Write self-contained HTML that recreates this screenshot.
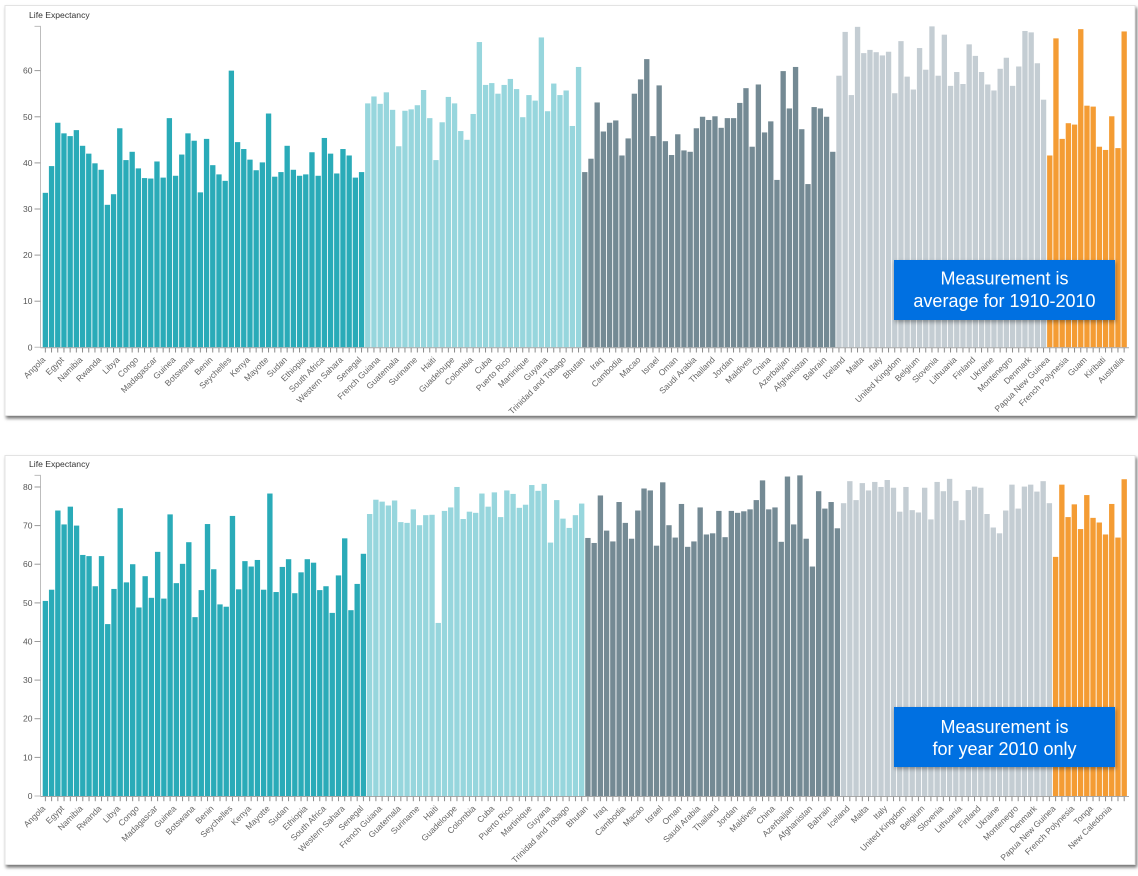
<!DOCTYPE html>
<html><head><meta charset="utf-8"><style>
html,body{margin:0;padding:0;background:#fff}
body{width:1138px;height:876px;overflow:hidden}
svg{display:block;font-family:"Liberation Sans",Arial,sans-serif}
.yl{font-size:8.5px;fill:#555;text-anchor:end}
.xl text{font-size:8.5px;fill:#666;text-anchor:end}
.tt{font-size:8.6px;fill:#333}
.ann{font-size:18px;fill:#fff;text-anchor:middle}
</style></head><body>
<svg width="1138" height="876" viewBox="0 0 1138 876">
<defs>
<filter id="sh" x="-2%" y="-3%" width="104%" height="108%"><feDropShadow dx="1.5" dy="2.5" stdDeviation="1.5" flood-color="#000" flood-opacity="0.55"/></filter>
<filter id="sh2" x="-5%" y="-10%" width="110%" height="130%"><feDropShadow dx="1" dy="2" stdDeviation="2" flood-color="#000" flood-opacity="0.35"/></filter>
<pattern id="tk1" patternUnits="userSpaceOnUse" x="44.85" y="0" width="6.2" height="10"><rect x="0" y="0" width="1" height="10" fill="#8a8a8a"/></pattern>
<pattern id="tk2" patternUnits="userSpaceOnUse" x="44.88" y="0" width="6.236" height="10"><rect x="0" y="0" width="1" height="10" fill="#8a8a8a"/></pattern>
</defs>

<!-- panels -->
<rect x="5" y="5.5" width="1130" height="410" fill="#fff" stroke="#e3e3e3" filter="url(#sh)"/>
<rect x="5" y="455.5" width="1130" height="409" fill="#fff" stroke="#e3e3e3" filter="url(#sh)"/>

<!-- ============ TOP CHART ============ -->
<text class="tt" x="29" y="18">Life Expectancy</text>
<g transform="translate(42.7,347.3) scale(6.2,-4.611)">
<g fill="#2aabb8">
<rect x="0" width=".86" height="33.5"/><rect x="1" width=".86" height="39.3"/><rect x="2" width=".86" height="48.7"/><rect x="3" width=".86" height="46.4"/><rect x="4" width=".86" height="45.8"/><rect x="5" width=".86" height="47.1"/><rect x="6" width=".86" height="43.7"/><rect x="7" width=".86" height="42"/><rect x="8" width=".86" height="39.9"/><rect x="9" width=".86" height="38.5"/><rect x="10" width=".86" height="30.9"/><rect x="11" width=".86" height="33.2"/><rect x="12" width=".86" height="47.5"/><rect x="13" width=".86" height="40.6"/><rect x="14" width=".86" height="42.4"/><rect x="15" width=".86" height="38.8"/><rect x="16" width=".86" height="36.7"/><rect x="17" width=".86" height="36.6"/><rect x="18" width=".86" height="40.3"/><rect x="19" width=".86" height="36.8"/><rect x="20" width=".86" height="49.7"/><rect x="21" width=".86" height="37.2"/><rect x="22" width=".86" height="41.8"/><rect x="23" width=".86" height="46.4"/><rect x="24" width=".86" height="44.8"/><rect x="25" width=".86" height="33.6"/><rect x="26" width=".86" height="45.2"/><rect x="27" width=".86" height="39.5"/><rect x="28" width=".86" height="37.5"/><rect x="29" width=".86" height="36.1"/><rect x="30" width=".86" height="60"/><rect x="31" width=".86" height="44.5"/><rect x="32" width=".86" height="43"/><rect x="33" width=".86" height="40.7"/><rect x="34" width=".86" height="38.4"/><rect x="35" width=".86" height="40.1"/><rect x="36" width=".86" height="50.7"/><rect x="37" width=".86" height="37"/><rect x="38" width=".86" height="38"/><rect x="39" width=".86" height="43.7"/><rect x="40" width=".86" height="38.5"/><rect x="41" width=".86" height="37.2"/><rect x="42" width=".86" height="37.5"/><rect x="43" width=".86" height="42.3"/><rect x="44" width=".86" height="37.2"/><rect x="45" width=".86" height="45.4"/><rect x="46" width=".86" height="42"/><rect x="47" width=".86" height="37.7"/><rect x="48" width=".86" height="43"/><rect x="49" width=".86" height="41.6"/><rect x="50" width=".86" height="36.8"/><rect x="51" width=".86" height="38"/>
</g>
<g fill="#97d6dd">
<rect x="52" width=".86" height="52.9"/><rect x="53" width=".86" height="54.4"/><rect x="54" width=".86" height="52.8"/><rect x="55" width=".86" height="55.3"/><rect x="56" width=".86" height="51.5"/><rect x="57" width=".86" height="43.6"/><rect x="58" width=".86" height="51.3"/><rect x="59" width=".86" height="51.6"/><rect x="60" width=".86" height="52.5"/><rect x="61" width=".86" height="55.8"/><rect x="62" width=".86" height="49.7"/><rect x="63" width=".86" height="40.6"/><rect x="64" width=".86" height="48.8"/><rect x="65" width=".86" height="54.3"/><rect x="66" width=".86" height="52.9"/><rect x="67" width=".86" height="46.9"/><rect x="68" width=".86" height="45"/><rect x="69" width=".86" height="50.6"/><rect x="70" width=".86" height="66.2"/><rect x="71" width=".86" height="56.9"/><rect x="72" width=".86" height="57.3"/><rect x="73" width=".86" height="55"/><rect x="74" width=".86" height="56.9"/><rect x="75" width=".86" height="58.2"/><rect x="76" width=".86" height="56"/><rect x="77" width=".86" height="49.9"/><rect x="78" width=".86" height="54.7"/><rect x="79" width=".86" height="53.5"/><rect x="80" width=".86" height="67.2"/><rect x="81" width=".86" height="51.2"/><rect x="82" width=".86" height="57.2"/><rect x="83" width=".86" height="54.7"/><rect x="84" width=".86" height="55.7"/><rect x="85" width=".86" height="48"/><rect x="86" width=".86" height="60.8"/>
</g>
<g fill="#748a94">
<rect x="87" width=".86" height="38"/><rect x="88" width=".86" height="40.9"/><rect x="89" width=".86" height="53.1"/><rect x="90" width=".86" height="46.8"/><rect x="91" width=".86" height="48.7"/><rect x="92" width=".86" height="49.2"/><rect x="93" width=".86" height="41.6"/><rect x="94" width=".86" height="45.3"/><rect x="95" width=".86" height="55"/><rect x="96" width=".86" height="58.1"/><rect x="97" width=".86" height="62.5"/><rect x="98" width=".86" height="45.8"/><rect x="99" width=".86" height="56.8"/><rect x="100" width=".86" height="44.7"/><rect x="101" width=".86" height="41.7"/><rect x="102" width=".86" height="46.2"/><rect x="103" width=".86" height="42.7"/><rect x="104" width=".86" height="42.4"/><rect x="105" width=".86" height="47.5"/><rect x="106" width=".86" height="50"/><rect x="107" width=".86" height="49.3"/><rect x="108" width=".86" height="50.1"/><rect x="109" width=".86" height="47.6"/><rect x="110" width=".86" height="49.7"/><rect x="111" width=".86" height="49.7"/><rect x="112" width=".86" height="53"/><rect x="113" width=".86" height="56.2"/><rect x="114" width=".86" height="43.5"/><rect x="115" width=".86" height="57"/><rect x="116" width=".86" height="46.6"/><rect x="117" width=".86" height="49"/><rect x="118" width=".86" height="36.3"/><rect x="119" width=".86" height="59.9"/><rect x="120" width=".86" height="51.8"/><rect x="121" width=".86" height="60.8"/><rect x="122" width=".86" height="47.3"/><rect x="123" width=".86" height="35.4"/><rect x="124" width=".86" height="52.1"/><rect x="125" width=".86" height="51.8"/><rect x="126" width=".86" height="50"/><rect x="127" width=".86" height="42.4"/>
</g>
<g fill="#c4cdd3">
<rect x="128" width=".86" height="58.9"/><rect x="129" width=".86" height="68.4"/><rect x="130" width=".86" height="54.7"/><rect x="131" width=".86" height="69.5"/><rect x="132" width=".86" height="63.8"/><rect x="133" width=".86" height="64.5"/><rect x="134" width=".86" height="64"/><rect x="135" width=".86" height="63.3"/><rect x="136" width=".86" height="64.1"/><rect x="137" width=".86" height="55.1"/><rect x="138" width=".86" height="66.4"/><rect x="139" width=".86" height="58.7"/><rect x="140" width=".86" height="55.9"/><rect x="141" width=".86" height="64.9"/><rect x="142" width=".86" height="60.2"/><rect x="143" width=".86" height="69.6"/><rect x="144" width=".86" height="58.9"/><rect x="145" width=".86" height="67.8"/><rect x="146" width=".86" height="56.7"/><rect x="147" width=".86" height="59.7"/><rect x="148" width=".86" height="57.1"/><rect x="149" width=".86" height="65.7"/><rect x="150" width=".86" height="63.2"/><rect x="151" width=".86" height="59.7"/><rect x="152" width=".86" height="57"/><rect x="153" width=".86" height="55.7"/><rect x="154" width=".86" height="60.4"/><rect x="155" width=".86" height="62.8"/><rect x="156" width=".86" height="56.7"/><rect x="157" width=".86" height="60.9"/><rect x="158" width=".86" height="68.6"/><rect x="159" width=".86" height="68.3"/><rect x="160" width=".86" height="61.6"/><rect x="161" width=".86" height="53.7"/>
</g>
<g fill="#f49c34">
<rect x="162" width=".86" height="41.6"/><rect x="163" width=".86" height="67"/><rect x="164" width=".86" height="45.2"/><rect x="165" width=".86" height="48.6"/><rect x="166" width=".86" height="48.3"/><rect x="167" width=".86" height="69"/><rect x="168" width=".86" height="52.4"/><rect x="169" width=".86" height="52.2"/><rect x="170" width=".86" height="43.5"/><rect x="171" width=".86" height="42.8"/><rect x="172" width=".86" height="50.1"/><rect x="173" width=".86" height="43.2"/><rect x="174" width=".86" height="68.5"/>
</g>
</g>
<!-- top axes -->
<path d="M34.5,26.4H40.5V347.3H34.5" fill="none" stroke="#bdbdbd" stroke-width="1"/>
<line x1="40.5" y1="347.8" x2="1129" y2="347.8" stroke="#a8a8a8" stroke-width="1"/>
<rect x="42.7" y="348" width="1085.3" height="4.5" fill="url(#tk1)"/>
<g stroke="#9a9a9a" stroke-width="1">
<line x1="34.5" y1="301.2" x2="40.5" y2="301.2"/><line x1="34.5" y1="255.1" x2="40.5" y2="255.1"/><line x1="34.5" y1="209" x2="40.5" y2="209"/><line x1="34.5" y1="162.9" x2="40.5" y2="162.9"/><line x1="34.5" y1="116.8" x2="40.5" y2="116.8"/><line x1="34.5" y1="70.6" x2="40.5" y2="70.6"/>
</g>
<g class="yl">
<text x="32.5" y="350.3">0</text><text x="32.5" y="304.2">10</text><text x="32.5" y="258.1">20</text><text x="32.5" y="212">30</text><text x="32.5" y="165.9">40</text><text x="32.5" y="119.8">50</text><text x="32.5" y="73.6">60</text>
</g>
<g class="xl">
<text transform="translate(45.85,360.3) rotate(-45)">Angola</text>
<text transform="translate(64.45,360.3) rotate(-45)">Egypt</text>
<text transform="translate(83.05,360.3) rotate(-45)">Namibia</text>
<text transform="translate(101.65,360.3) rotate(-45)">Rwanda</text>
<text transform="translate(120.25,360.3) rotate(-45)">Libya</text>
<text transform="translate(138.85,360.3) rotate(-45)">Congo</text>
<text transform="translate(157.45,360.3) rotate(-45)">Madagascar</text>
<text transform="translate(176.05,360.3) rotate(-45)">Guinea</text>
<text transform="translate(194.65,360.3) rotate(-45)">Botswana</text>
<text transform="translate(213.25,360.3) rotate(-45)">Benin</text>
<text transform="translate(231.85,360.3) rotate(-45)">Seychelles</text>
<text transform="translate(250.45,360.3) rotate(-45)">Kenya</text>
<text transform="translate(269.05,360.3) rotate(-45)">Mayotte</text>
<text transform="translate(287.65,360.3) rotate(-45)">Sudan</text>
<text transform="translate(306.25,360.3) rotate(-45)">Ethiopia</text>
<text transform="translate(324.85,360.3) rotate(-45)">South Africa</text>
<text transform="translate(343.45,360.3) rotate(-45)">Western Sahara</text>
<text transform="translate(362.05,360.3) rotate(-45)">Senegal</text>
<text transform="translate(380.65,360.3) rotate(-45)">French Guiana</text>
<text transform="translate(399.25,360.3) rotate(-45)">Guatemala</text>
<text transform="translate(417.85,360.3) rotate(-45)">Suriname</text>
<text transform="translate(436.45,360.3) rotate(-45)">Haiti</text>
<text transform="translate(455.05,360.3) rotate(-45)">Guadeloupe</text>
<text transform="translate(473.65,360.3) rotate(-45)">Colombia</text>
<text transform="translate(492.25,360.3) rotate(-45)">Cuba</text>
<text transform="translate(510.85,360.3) rotate(-45)">Puerto Rico</text>
<text transform="translate(529.45,360.3) rotate(-45)">Martinique</text>
<text transform="translate(548.05,360.3) rotate(-45)">Guyana</text>
<text transform="translate(566.65,360.3) rotate(-45)">Trinidad and Tobago</text>
<text transform="translate(585.25,360.3) rotate(-45)">Bhutan</text>
<text transform="translate(603.85,360.3) rotate(-45)">Iraq</text>
<text transform="translate(622.45,360.3) rotate(-45)">Cambodia</text>
<text transform="translate(641.05,360.3) rotate(-45)">Macao</text>
<text transform="translate(659.65,360.3) rotate(-45)">Israel</text>
<text transform="translate(678.25,360.3) rotate(-45)">Oman</text>
<text transform="translate(696.85,360.3) rotate(-45)">Saudi Arabia</text>
<text transform="translate(715.45,360.3) rotate(-45)">Thailand</text>
<text transform="translate(734.05,360.3) rotate(-45)">Jordan</text>
<text transform="translate(752.65,360.3) rotate(-45)">Maldives</text>
<text transform="translate(771.25,360.3) rotate(-45)">China</text>
<text transform="translate(789.85,360.3) rotate(-45)">Azerbaijan</text>
<text transform="translate(808.45,360.3) rotate(-45)">Afghanistan</text>
<text transform="translate(827.05,360.3) rotate(-45)">Bahrain</text>
<text transform="translate(845.65,360.3) rotate(-45)">Iceland</text>
<text transform="translate(864.25,360.3) rotate(-45)">Malta</text>
<text transform="translate(882.85,360.3) rotate(-45)">Italy</text>
<text transform="translate(901.45,360.3) rotate(-45)">United Kingdom</text>
<text transform="translate(920.05,360.3) rotate(-45)">Belgium</text>
<text transform="translate(938.65,360.3) rotate(-45)">Slovenia</text>
<text transform="translate(957.25,360.3) rotate(-45)">Lithuania</text>
<text transform="translate(975.85,360.3) rotate(-45)">Finland</text>
<text transform="translate(994.45,360.3) rotate(-45)">Ukraine</text>
<text transform="translate(1013.05,360.3) rotate(-45)">Montenegro</text>
<text transform="translate(1031.65,360.3) rotate(-45)">Denmark</text>
<text transform="translate(1050.25,360.3) rotate(-45)">Papua New Guinea</text>
<text transform="translate(1068.85,360.3) rotate(-45)">French Polynesia</text>
<text transform="translate(1087.45,360.3) rotate(-45)">Guam</text>
<text transform="translate(1106.05,360.3) rotate(-45)">Kiribati</text>
<text transform="translate(1124.65,360.3) rotate(-45)">Australia</text>
</g>
<rect x="894" y="260" width="221" height="60" fill="#0070e1" filter="url(#sh2)"/>
<text class="ann" x="1004.5" y="284.5">Measurement is</text>
<text class="ann" x="1004.5" y="307">average for 1910-2010</text>

<!-- ============ BOTTOM CHART ============ -->
<text class="tt" x="29" y="467">Life Expectancy</text>
<g transform="translate(42.7,796) scale(6.236,-3.863)">
<g fill="#2aabb8">
<rect x="0" width=".86" height="50.5"/><rect x="1" width=".86" height="53.4"/><rect x="2" width=".86" height="73.9"/><rect x="3" width=".86" height="70.3"/><rect x="4" width=".86" height="74.9"/><rect x="5" width=".86" height="70"/><rect x="6" width=".86" height="62.4"/><rect x="7" width=".86" height="62.1"/><rect x="8" width=".86" height="54.3"/><rect x="9" width=".86" height="62.1"/><rect x="10" width=".86" height="44.5"/><rect x="11" width=".86" height="53.6"/><rect x="12" width=".86" height="74.5"/><rect x="13" width=".86" height="55.3"/><rect x="14" width=".86" height="60"/><rect x="15" width=".86" height="48.8"/><rect x="16" width=".86" height="56.9"/><rect x="17" width=".86" height="51.3"/><rect x="18" width=".86" height="63.2"/><rect x="19" width=".86" height="51.1"/><rect x="20" width=".86" height="72.9"/><rect x="21" width=".86" height="55.1"/><rect x="22" width=".86" height="60.1"/><rect x="23" width=".86" height="65.7"/><rect x="24" width=".86" height="46.3"/><rect x="25" width=".86" height="53.3"/><rect x="26" width=".86" height="70.4"/><rect x="27" width=".86" height="58.7"/><rect x="28" width=".86" height="49.6"/><rect x="29" width=".86" height="49"/><rect x="30" width=".86" height="72.5"/><rect x="31" width=".86" height="53.5"/><rect x="32" width=".86" height="60.8"/><rect x="33" width=".86" height="59.4"/><rect x="34" width=".86" height="61.1"/><rect x="35" width=".86" height="53.4"/><rect x="36" width=".86" height="78.3"/><rect x="37" width=".86" height="52.8"/><rect x="38" width=".86" height="59.3"/><rect x="39" width=".86" height="61.3"/><rect x="40" width=".86" height="52.5"/><rect x="41" width=".86" height="57.9"/><rect x="42" width=".86" height="61.3"/><rect x="43" width=".86" height="60.4"/><rect x="44" width=".86" height="53.3"/><rect x="45" width=".86" height="54.3"/><rect x="46" width=".86" height="47.4"/><rect x="47" width=".86" height="57.1"/><rect x="48" width=".86" height="66.7"/><rect x="49" width=".86" height="48.1"/><rect x="50" width=".86" height="54.9"/><rect x="51" width=".86" height="62.7"/>
</g>
<g fill="#97d6dd">
<rect x="52" width=".86" height="73"/><rect x="53" width=".86" height="76.7"/><rect x="54" width=".86" height="76.2"/><rect x="55" width=".86" height="75.2"/><rect x="56" width=".86" height="76.5"/><rect x="57" width=".86" height="70.9"/><rect x="58" width=".86" height="70.7"/><rect x="59" width=".86" height="74.2"/><rect x="60" width=".86" height="70.1"/><rect x="61" width=".86" height="72.7"/><rect x="62" width=".86" height="72.8"/><rect x="63" width=".86" height="44.8"/><rect x="64" width=".86" height="73.8"/><rect x="65" width=".86" height="74.7"/><rect x="66" width=".86" height="80"/><rect x="67" width=".86" height="71.7"/><rect x="68" width=".86" height="73.6"/><rect x="69" width=".86" height="73.3"/><rect x="70" width=".86" height="78.3"/><rect x="71" width=".86" height="74.9"/><rect x="72" width=".86" height="78.6"/><rect x="73" width=".86" height="72.2"/><rect x="74" width=".86" height="79.1"/><rect x="75" width=".86" height="78.2"/><rect x="76" width=".86" height="74.6"/><rect x="77" width=".86" height="75.4"/><rect x="78" width=".86" height="80.5"/><rect x="79" width=".86" height="79"/><rect x="80" width=".86" height="80.8"/><rect x="81" width=".86" height="65.6"/><rect x="82" width=".86" height="76.6"/><rect x="83" width=".86" height="71.8"/><rect x="84" width=".86" height="69.4"/><rect x="85" width=".86" height="72.7"/><rect x="86" width=".86" height="75.7"/>
</g>
<g fill="#748a94">
<rect x="87" width=".86" height="66.8"/><rect x="88" width=".86" height="65.5"/><rect x="89" width=".86" height="77.8"/><rect x="90" width=".86" height="68.7"/><rect x="91" width=".86" height="65.9"/><rect x="92" width=".86" height="76.1"/><rect x="93" width=".86" height="70.7"/><rect x="94" width=".86" height="66.6"/><rect x="95" width=".86" height="73.9"/><rect x="96" width=".86" height="79.6"/><rect x="97" width=".86" height="79.1"/><rect x="98" width=".86" height="64.8"/><rect x="99" width=".86" height="81.2"/><rect x="100" width=".86" height="70.1"/><rect x="101" width=".86" height="66.9"/><rect x="102" width=".86" height="75.6"/><rect x="103" width=".86" height="64.5"/><rect x="104" width=".86" height="65.9"/><rect x="105" width=".86" height="74.7"/><rect x="106" width=".86" height="67.7"/><rect x="107" width=".86" height="68"/><rect x="108" width=".86" height="73.8"/><rect x="109" width=".86" height="67"/><rect x="110" width=".86" height="73.8"/><rect x="111" width=".86" height="73.3"/><rect x="112" width=".86" height="73.7"/><rect x="113" width=".86" height="74.2"/><rect x="114" width=".86" height="76.6"/><rect x="115" width=".86" height="81.7"/><rect x="116" width=".86" height="74.2"/><rect x="117" width=".86" height="74.7"/><rect x="118" width=".86" height="65.8"/><rect x="119" width=".86" height="82.7"/><rect x="120" width=".86" height="70.3"/><rect x="121" width=".86" height="83"/><rect x="122" width=".86" height="66.6"/><rect x="123" width=".86" height="59.4"/><rect x="124" width=".86" height="78.9"/><rect x="125" width=".86" height="74.4"/><rect x="126" width=".86" height="76.1"/><rect x="127" width=".86" height="69.3"/>
</g>
<g fill="#c4cdd3">
<rect x="128" width=".86" height="75.8"/><rect x="129" width=".86" height="81.5"/><rect x="130" width=".86" height="76.6"/><rect x="131" width=".86" height="81"/><rect x="132" width=".86" height="79.1"/><rect x="133" width=".86" height="81.3"/><rect x="134" width=".86" height="80"/><rect x="135" width=".86" height="81.8"/><rect x="136" width=".86" height="79.8"/><rect x="137" width=".86" height="73.6"/><rect x="138" width=".86" height="80"/><rect x="139" width=".86" height="74"/><rect x="140" width=".86" height="73.4"/><rect x="141" width=".86" height="79.8"/><rect x="142" width=".86" height="71.6"/><rect x="143" width=".86" height="81.3"/><rect x="144" width=".86" height="78.9"/><rect x="145" width=".86" height="82.1"/><rect x="146" width=".86" height="76.4"/><rect x="147" width=".86" height="71.4"/><rect x="148" width=".86" height="79.2"/><rect x="149" width=".86" height="80.1"/><rect x="150" width=".86" height="79.8"/><rect x="151" width=".86" height="73"/><rect x="152" width=".86" height="69.5"/><rect x="153" width=".86" height="68"/><rect x="154" width=".86" height="73.9"/><rect x="155" width=".86" height="80.6"/><rect x="156" width=".86" height="74.4"/><rect x="157" width=".86" height="80.1"/><rect x="158" width=".86" height="80.6"/><rect x="159" width=".86" height="78.8"/><rect x="160" width=".86" height="81.5"/><rect x="161" width=".86" height="75.8"/>
</g>
<g fill="#f49c34">
<rect x="162" width=".86" height="61.9"/><rect x="163" width=".86" height="80.6"/><rect x="164" width=".86" height="72.2"/><rect x="165" width=".86" height="75.5"/><rect x="166" width=".86" height="69.1"/><rect x="167" width=".86" height="77.9"/><rect x="168" width=".86" height="72"/><rect x="169" width=".86" height="70.8"/><rect x="170" width=".86" height="67.7"/><rect x="171" width=".86" height="75.6"/><rect x="172" width=".86" height="66.9"/><rect x="173" width=".86" height="82"/>
</g>
</g>
<!-- bottom axes -->
<path d="M34.5,475.4H40.5V796H34.5" fill="none" stroke="#bdbdbd" stroke-width="1"/>
<line x1="40.5" y1="796.5" x2="1129" y2="796.5" stroke="#a8a8a8" stroke-width="1"/>
<rect x="42.7" y="796.7" width="1085.3" height="4.5" fill="url(#tk2)"/>
<g stroke="#9a9a9a" stroke-width="1">
<line x1="34.5" y1="757.4" x2="40.5" y2="757.4"/><line x1="34.5" y1="718.7" x2="40.5" y2="718.7"/><line x1="34.5" y1="680.1" x2="40.5" y2="680.1"/><line x1="34.5" y1="641.5" x2="40.5" y2="641.5"/><line x1="34.5" y1="602.9" x2="40.5" y2="602.9"/><line x1="34.5" y1="564.2" x2="40.5" y2="564.2"/><line x1="34.5" y1="525.6" x2="40.5" y2="525.6"/><line x1="34.5" y1="487" x2="40.5" y2="487"/>
</g>
<g class="yl">
<text x="32.5" y="799">0</text><text x="32.5" y="760.4">10</text><text x="32.5" y="721.7">20</text><text x="32.5" y="683.1">30</text><text x="32.5" y="644.5">40</text><text x="32.5" y="605.9">50</text><text x="32.5" y="567.2">60</text><text x="32.5" y="528.6">70</text><text x="32.5" y="490">80</text>
</g>
<g class="xl">
<text transform="translate(45.88,809) rotate(-45)">Angola</text>
<text transform="translate(64.59,809) rotate(-45)">Egypt</text>
<text transform="translate(83.3,809) rotate(-45)">Namibia</text>
<text transform="translate(102,809) rotate(-45)">Rwanda</text>
<text transform="translate(120.71,809) rotate(-45)">Libya</text>
<text transform="translate(139.42,809) rotate(-45)">Congo</text>
<text transform="translate(158.13,809) rotate(-45)">Madagascar</text>
<text transform="translate(176.84,809) rotate(-45)">Guinea</text>
<text transform="translate(195.54,809) rotate(-45)">Botswana</text>
<text transform="translate(214.25,809) rotate(-45)">Benin</text>
<text transform="translate(232.96,809) rotate(-45)">Seychelles</text>
<text transform="translate(251.67,809) rotate(-45)">Kenya</text>
<text transform="translate(270.38,809) rotate(-45)">Mayotte</text>
<text transform="translate(289.08,809) rotate(-45)">Sudan</text>
<text transform="translate(307.79,809) rotate(-45)">Ethiopia</text>
<text transform="translate(326.5,809) rotate(-45)">South Africa</text>
<text transform="translate(345.21,809) rotate(-45)">Western Sahara</text>
<text transform="translate(363.92,809) rotate(-45)">Senegal</text>
<text transform="translate(382.62,809) rotate(-45)">French Guiana</text>
<text transform="translate(401.33,809) rotate(-45)">Guatemala</text>
<text transform="translate(420.04,809) rotate(-45)">Suriname</text>
<text transform="translate(438.75,809) rotate(-45)">Haiti</text>
<text transform="translate(457.46,809) rotate(-45)">Guadeloupe</text>
<text transform="translate(476.16,809) rotate(-45)">Colombia</text>
<text transform="translate(494.87,809) rotate(-45)">Cuba</text>
<text transform="translate(513.58,809) rotate(-45)">Puerto Rico</text>
<text transform="translate(532.29,809) rotate(-45)">Martinique</text>
<text transform="translate(551,809) rotate(-45)">Guyana</text>
<text transform="translate(569.7,809) rotate(-45)">Trinidad and Tobago</text>
<text transform="translate(588.41,809) rotate(-45)">Bhutan</text>
<text transform="translate(607.12,809) rotate(-45)">Iraq</text>
<text transform="translate(625.83,809) rotate(-45)">Cambodia</text>
<text transform="translate(644.54,809) rotate(-45)">Macao</text>
<text transform="translate(663.24,809) rotate(-45)">Israel</text>
<text transform="translate(681.95,809) rotate(-45)">Oman</text>
<text transform="translate(700.66,809) rotate(-45)">Saudi Arabia</text>
<text transform="translate(719.37,809) rotate(-45)">Thailand</text>
<text transform="translate(738.08,809) rotate(-45)">Jordan</text>
<text transform="translate(756.78,809) rotate(-45)">Maldives</text>
<text transform="translate(775.49,809) rotate(-45)">China</text>
<text transform="translate(794.2,809) rotate(-45)">Azerbaijan</text>
<text transform="translate(812.91,809) rotate(-45)">Afghanistan</text>
<text transform="translate(831.62,809) rotate(-45)">Bahrain</text>
<text transform="translate(850.32,809) rotate(-45)">Iceland</text>
<text transform="translate(869.03,809) rotate(-45)">Malta</text>
<text transform="translate(887.74,809) rotate(-45)">Italy</text>
<text transform="translate(906.45,809) rotate(-45)">United Kingdom</text>
<text transform="translate(925.16,809) rotate(-45)">Belgium</text>
<text transform="translate(943.86,809) rotate(-45)">Slovenia</text>
<text transform="translate(962.57,809) rotate(-45)">Lithuania</text>
<text transform="translate(981.28,809) rotate(-45)">Finland</text>
<text transform="translate(999.99,809) rotate(-45)">Ukraine</text>
<text transform="translate(1018.7,809) rotate(-45)">Montenegro</text>
<text transform="translate(1037.4,809) rotate(-45)">Denmark</text>
<text transform="translate(1056.11,809) rotate(-45)">Papua New Guinea</text>
<text transform="translate(1074.82,809) rotate(-45)">French Polynesia</text>
<text transform="translate(1093.53,809) rotate(-45)">Tonga</text>
<text transform="translate(1112.24,809) rotate(-45)">New Caledonia</text>
</g>
<rect x="894" y="707" width="221" height="60" fill="#0070e1" filter="url(#sh2)"/>
<text class="ann" x="1004.5" y="733">Measurement is</text>
<text class="ann" x="1004.5" y="755">for year 2010 only</text>
</svg>
</body></html>
